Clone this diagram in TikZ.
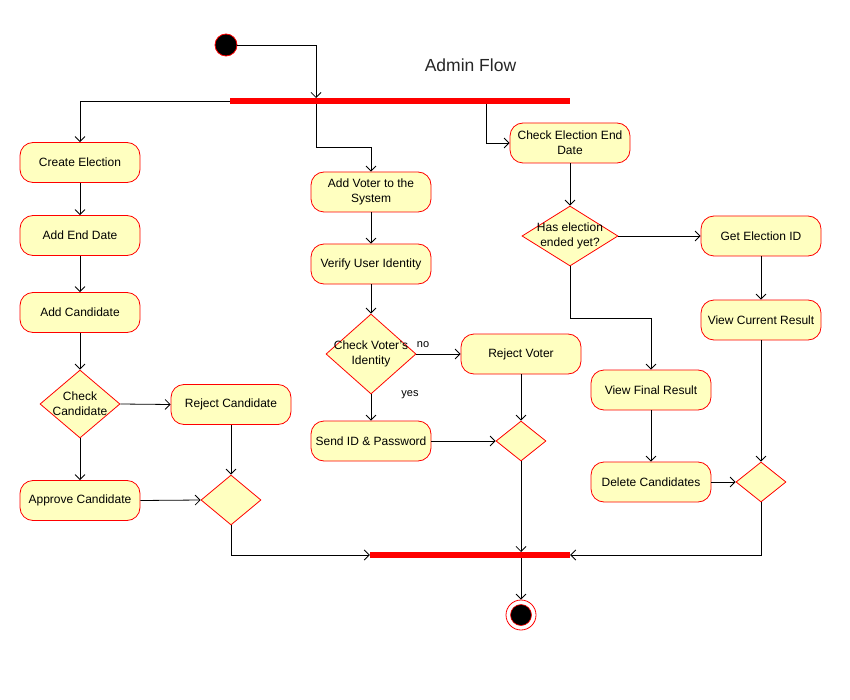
\documentclass[tikz,border=0pt]{standalone}
\usepackage{fontspec}
\setmainfont{Liberation Sans}
\usetikzlibrary{shapes.geometric,arrows.meta}
\definecolor{yellowfill}{HTML}{FFFFC0}
\begin{document}
\begin{tikzpicture}[x=1pt,y=-1pt,
  font=\fontsize{12}{15}\selectfont,
  act/.style={draw=red, fill=yellowfill, rounded corners=13pt, minimum width=120pt, minimum height=40pt, inner sep=2pt, align=center, line width=0.8pt},
  dec/.style={draw=red, fill=yellowfill, diamond, inner sep=0pt, line width=0.8pt},
  bar/.style={fill=red, draw=none, minimum height=6pt, inner sep=0pt},
  arr/.style={-{Straight Barb[length=5pt,width=10pt]}, line width=0.8pt},
  ln/.style={line width=0.8pt}]
\useasboundingbox (0,0) rectangle (850,700);
\fill[white] (0,0) rectangle (850,700);

% start / end
\node[circle, draw=red, fill=black, minimum size=22pt, inner sep=0pt, line width=0.8pt] (start) at (226,45) {};
\node[font=\fontsize{17.5}{20}\selectfont, text=black!85] (title) at (470.5,65) {Admin Flow};

% bars
\node[bar, minimum width=340pt] (bar1) at (400,101) {};
\node[bar, minimum width=200pt] (bar2) at (470,555) {};
\coordinate (c1) at (316,98);
\coordinate (c3) at (316,104);
\coordinate (c6) at (486,104);
\coordinate (c4) at (521,552);
\coordinate (c5) at (521,558);

% left column
\node[act] (ce) at (80,162.5) {Create Election};
\node[act] (aed) at (80,235.5) {Add End Date};
\node[act] (ac) at (80,312.5) {Add Candidate};
\node[dec, minimum width=80pt, minimum height=68pt] (chk) at (80,404) {};
\node[align=center] (chkt) at (80,404) {Check\\Candidate};
\node[act] (rc) at (231,404.5) {Reject Candidate};
\node[act] (apc) at (80,500.5) {Approve Candidate};
\node[dec, minimum width=60pt, minimum height=50pt] (m1) at (231,500) {};

% middle column
\node[act] (av) at (371,192) {Add Voter to the\\System};
\node[act] (vui) at (371,264) {Verify User Identity};
\node[dec, minimum width=90pt, minimum height=80pt] (cvi) at (371,354) {};
\node[align=center] (cvit) at (371,354) {Check Voter's\\Identity};
\node[act] (rv) at (521,354) {Reject Voter};
\node[act] (sid) at (371,441) {Send ID \& Password};
\node[dec, minimum width=50pt, minimum height=40pt] (m2) at (521,441) {};
\node[font=\fontsize{11}{13}\selectfont] (no) at (423,345) {no};
\node[font=\fontsize{11}{13}\selectfont] (yes) at (410,395) {yes};

% right column
\node[act] (ced) at (570,143) {Check Election End\\Date};
\node[dec, minimum width=96pt, minimum height=60pt] (hee) at (570,236) {};
\node[align=center] (heet) at (570,236) {Has election\\ended yet?};
\node[act] (gei) at (761,236) {Get Election ID};
\node[act] (vcr) at (761,320) {View Current Result};
\node[act] (vfr) at (651,390) {View Final Result};
\node[act] (dc) at (651,482) {Delete Candidates};
\node[dec, minimum width=50pt, minimum height=40pt] (m3) at (761,482) {};

% end
\node[circle, draw=red, fill=white, minimum size=30pt, inner sep=0pt, line width=0.8pt] (endo) at (521,615) {};
\node[circle, draw=red, fill=black, minimum size=21pt, inner sep=0pt, line width=0.6pt] (endi) at (521,615) {};

% connectors
\draw[arr] (start.east) -| (c1);
\draw[arr] (bar1.west) -| (ce.north);
\draw[arr] (ce) -- (aed);
\draw[arr] (aed) -- (ac);
\draw[arr] (ac) -- (chk);
\draw[arr] (chk.east) -- (rc.west);
\draw[arr] (chk.south) -- (apc.north);
\draw[arr] (rc.south) -- (m1.north);
\draw[arr] (apc.east) -- (m1.west);
\draw[arr] (m1.south) |- (bar2.west);

\draw[arr] (c3) -- ++(0,43) -| (av.north);
\draw[arr] (av) -- (vui);
\draw[arr] (vui) -- (cvi);
\draw[arr] (cvi.east) -- (rv.west);
\draw[arr] (cvi.south) -- (sid.north);
\draw[arr] (rv.south) -- (m2.north);
\draw[arr] (sid.east) -- (m2.west);
\draw[arr] (m2.south) -- (c4);
\draw[arr] (c5) -- (endo.north);

\draw[arr] (c6) |- (ced.west);
\draw[arr] (ced) -- (hee);
\draw[arr] (hee.east) -- (gei.west);
\draw[arr] (gei) -- (vcr);
\draw[arr] (vcr.south) -- (m3.north);
\draw[arr] (hee.south) -- ++(0,52) -| (vfr.north);
\draw[arr] (vfr) -- (dc);
\draw[arr] (dc.east) -- (m3.west);
\draw[arr] (m3.south) |- (bar2.east);
\end{tikzpicture}
\end{document}
